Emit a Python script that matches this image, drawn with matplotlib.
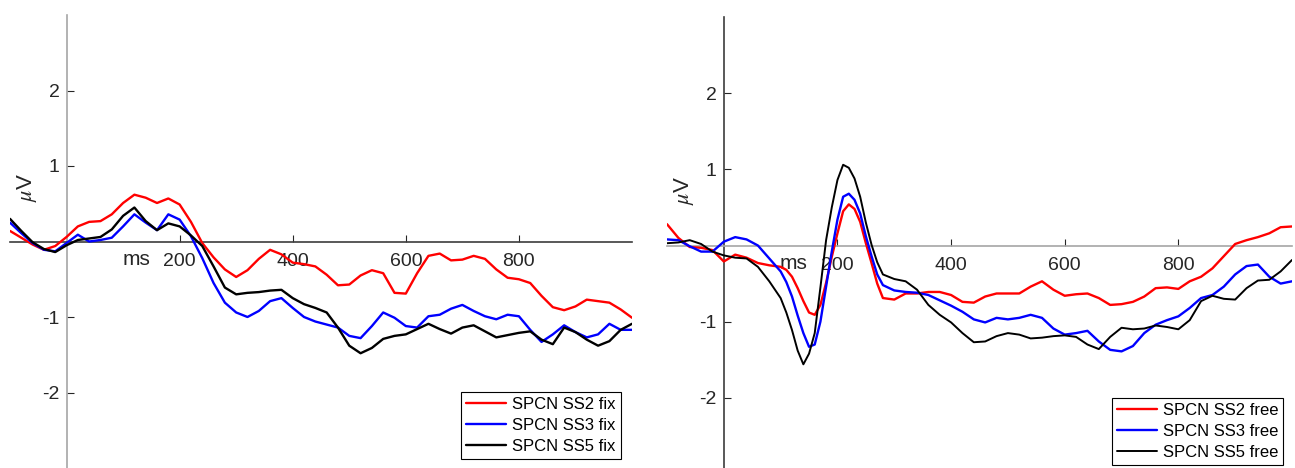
import numpy as np
import matplotlib
matplotlib.use('Agg')
import matplotlib.pyplot as plt

plt.rcParams['font.family'] = ['Liberation Sans', 'DejaVu Sans']
plt.rcParams['mathtext.fontset'] = 'stix'
plt.rcParams['axes.unicode_minus'] = False
plt.rcParams['lines.solid_joinstyle'] = 'round'
plt.rcParams['lines.solid_capstyle'] = 'round'

# SPCN difference waves, fixed gaze condition (20 ms steps)
t_fix = np.arange(-100, 1001, 20)
ss2_fix = [0.14, 0.05, -0.04, -0.11, -0.06, 0.06, 0.20, 0.26, 0.27, 0.36,
           0.51, 0.62, 0.58, 0.51, 0.57, 0.49, 0.26, -0.02, -0.21, -0.37,
           -0.47, -0.38, -0.23, -0.11, -0.17, -0.28, -0.30, -0.33, -0.44, -0.58,
           -0.57, -0.45, -0.38, -0.42, -0.68, -0.69, -0.42, -0.19, -0.16, -0.25,
           -0.24, -0.19, -0.23, -0.37, -0.48, -0.50, -0.55, -0.72, -0.87, -0.91,
           -0.86, -0.77, -0.79, -0.81, -0.90, -1.01]
ss3_fix = [0.25, 0.11, -0.02, -0.11, -0.13, -0.02, 0.09, 0.00, 0.02, 0.05,
           0.20, 0.36, 0.25, 0.15, 0.36, 0.29, 0.07, -0.22, -0.55, -0.81,
           -0.94, -1.00, -0.92, -0.79, -0.75, -0.88, -1.00, -1.06, -1.10, -1.14,
           -1.25, -1.28, -1.12, -0.94, -1.01, -1.12, -1.14, -0.99, -0.97, -0.89,
           -0.84, -0.92, -0.99, -1.03, -0.97, -0.99, -1.17, -1.33, -1.23, -1.11,
           -1.20, -1.27, -1.23, -1.09, -1.17, -1.17]
ss5_fix = [0.30, 0.14, -0.01, -0.10, -0.14, -0.05, 0.02, 0.04, 0.06, 0.16,
           0.34, 0.45, 0.27, 0.15, 0.24, 0.20, 0.08, -0.06, -0.33, -0.61,
           -0.70, -0.68, -0.67, -0.65, -0.64, -0.75, -0.83, -0.88, -0.94, -1.14,
           -1.38, -1.48, -1.41, -1.29, -1.25, -1.23, -1.16, -1.09, -1.16, -1.22,
           -1.14, -1.11, -1.19, -1.27, -1.24, -1.21, -1.19, -1.30, -1.36, -1.14,
           -1.20, -1.30, -1.38, -1.32, -1.17, -1.09]

# free viewing condition, finer steps around the fast deflection
t_free = np.concatenate([np.arange(-100, 101, 20),
                         np.arange(110, 271, 10),
                         np.arange(280, 1001, 20)])
ss2_free = [0.28, 0.10, -0.02, -0.03, -0.06, -0.21, -0.12, -0.16, -0.23, -0.26, -0.28,
            -0.32, -0.41, -0.56, -0.73, -0.88, -0.91, -0.78, -0.49, -0.15, 0.16,
            0.45, 0.54, 0.48, 0.31, 0.03, -0.23, -0.50,
            -0.69, -0.71, -0.63, -0.63, -0.61, -0.61, -0.65, -0.74, -0.75, -0.67,
            -0.63, -0.63, -0.63, -0.54, -0.47, -0.58, -0.66, -0.64, -0.63, -0.69,
            -0.78, -0.77, -0.74, -0.67, -0.56, -0.55, -0.57, -0.47, -0.41, -0.30,
            -0.14, 0.02, 0.07, 0.11, 0.16, 0.24, 0.25]
ss3_free = [0.08, 0.07, -0.01, -0.08, -0.08, 0.05, 0.11, 0.08, 0.00, -0.17, -0.34,
            -0.48, -0.67, -0.92, -1.15, -1.33, -1.30, -1.00, -0.54, -0.08, 0.34,
            0.64, 0.68, 0.60, 0.42, 0.12, -0.14, -0.38,
            -0.52, -0.59, -0.61, -0.62, -0.65, -0.72, -0.79, -0.87, -0.97, -1.01,
            -0.95, -0.97, -0.95, -0.91, -0.95, -1.09, -1.17, -1.15, -1.12, -1.26,
            -1.37, -1.39, -1.32, -1.15, -1.04, -0.98, -0.93, -0.82, -0.69, -0.65,
            -0.54, -0.38, -0.27, -0.25, -0.41, -0.50, -0.47]
ss5_free = [0.03, 0.04, 0.07, 0.02, -0.08, -0.13, -0.16, -0.17, -0.28, -0.47, -0.69,
            -0.88, -1.11, -1.38, -1.56, -1.42, -1.15, -0.55, 0.07, 0.50, 0.86,
            1.06, 1.02, 0.88, 0.64, 0.30, 0.01, -0.22,
            -0.38, -0.44, -0.47, -0.58, -0.78, -0.91, -1.01, -1.15, -1.27, -1.26,
            -1.19, -1.15, -1.17, -1.22, -1.21, -1.19, -1.18, -1.20, -1.30, -1.36,
            -1.20, -1.08, -1.10, -1.09, -1.05, -1.07, -1.10, -0.98, -0.73, -0.66,
            -0.70, -0.71, -0.56, -0.46, -0.45, -0.34, -0.19]

labels_fix = ['SPCN SS2 fix', 'SPCN SS3 fix', 'SPCN SS5 fix']
labels_free = ['SPCN SS2 free', 'SPCN SS3 free', 'SPCN SS5 free']
colors = ['#ff0000', '#0000ff', '#000000']

W, H = 1295, 468
fig = plt.figure(figsize=(W / 100, H / 100), dpi=100)
ax1 = fig.add_axes([10 / W, 0, 622 / W, 453 / H])
ax2 = fig.add_axes([667 / W, -6 / H, 625 / W, 457 / H])


def style_axes(ax, xcol, ycol):
    ax.set_xlim(-100, 1000)
    ax.set_ylim(-3, 3)
    ax.spines['top'].set_visible(False)
    ax.spines['right'].set_visible(False)
    ax.spines['left'].set_position(('data', 0))
    ax.spines['bottom'].set_position(('data', 0))
    ax.spines['left'].set_color(ycol)
    ax.spines['bottom'].set_color(xcol)
    ax.spines['left'].set_linewidth(1.2)
    ax.spines['bottom'].set_linewidth(1.2)
    ax.set_xticks([200, 400, 600, 800])
    ax.set_yticks([-2, -1, 1, 2])
    ax.tick_params(axis='x', direction='in', length=5, pad=8,
                   labelsize=14, colors='#262626')
    ax.tick_params(axis='y', direction='in', length=5, pad=5,
                   labelsize=14, colors='#262626')
    ax.patch.set_visible(False)
    ax.text(123, -0.24, 'ms', fontsize=15, color='#262626',
            ha='center', va='center')
    ax.text(-70, 0.72, r'$\mu$V', fontsize=16, color='#262626',
            rotation=90, ha='center', va='center')


style_axes(ax1, '#3c3c3c', '#a6a6a6')
style_axes(ax2, '#a6a6a6', '#3c3c3c')

for ys, c, lab in zip([ss2_fix, ss3_fix, ss5_fix], colors, labels_fix):
    ax1.plot(t_fix, ys, color=c, lw=1.7, label=lab, zorder=3)
for ys, c, lab, lw in zip([ss2_free, ss3_free, ss5_free], colors, labels_free,
                          [1.7, 1.7, 1.4]):
    ax2.plot(t_free, ys, color=c, lw=lw, label=lab, zorder=3)

for ax, anchor in [(ax1, (0.982, 0.02)), (ax2, (0.986, 0.02))]:
    leg = ax.legend(loc='lower right', bbox_to_anchor=anchor, fontsize=12,
                    frameon=True, fancybox=False, framealpha=1,
                    edgecolor='#000000', handlelength=2.4, handletextpad=0.35,
                    borderpad=0.3, labelspacing=0.35, borderaxespad=0)
    leg.get_frame().set_linewidth(0.8)

fig.savefig('out.png', dpi=100)
